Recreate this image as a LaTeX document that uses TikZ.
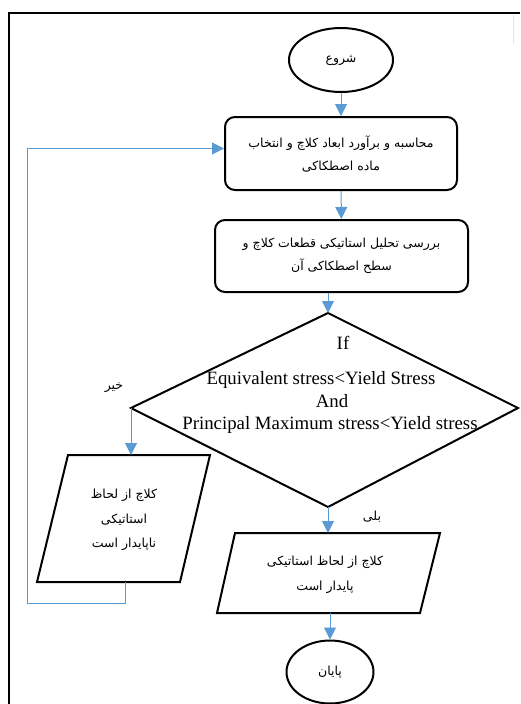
\documentclass[tikz,border=0pt]{standalone}
\usepackage{fontspec}
\setmainfont{Liberation Serif}
\newfontfamily\arabicfont[Script=Arabic]{DejaVu Sans}
\TeXXeTstate=1
\usetikzlibrary{arrows.meta,shapes.geometric}
\definecolor{arrowblue}{RGB}{91,155,213}
\newcommand{\fa}[1]{{\arabicfont\beginR #1\endR}}
\begin{document}
\begin{tikzpicture}[x=1pt,y=-1pt,
  shapeline/.style={draw=black,line width=2pt},
  flow/.style={draw=arrowblue,line width=1pt,-{Triangle[width=12pt,length=12pt]}},
  fatext/.style={font=\arabicfont\fontsize{12.5}{23}\selectfont,align=center,inner sep=0pt},
  entext/.style={font=\fontsize{18.8}{22}\selectfont,inner sep=0pt},
]
\useasboundingbox (0,0) rectangle (520,704);
\draw[line width=2pt] (9,704) -- (9,13) -- (520,13);
\draw[gray!20,line width=1pt] (513,15) -- (513,44);

% terminals and process boxes
\node[ellipse,shapeline,minimum width=104pt,minimum height=64pt,fatext] (start) at (341,60) {\fa{شروع}};
\node[rounded corners=10pt,shapeline,minimum width=232pt,minimum height=73pt,fatext] (b1) at (341,153.5)
  {\fa{محاسبه و برآورد ابعاد کلاچ و انتخاب}\\\fa{ماده اصطکاکی}};
\node[rounded corners=10pt,shapeline,minimum width=253pt,minimum height=72pt,fatext] (b2) at (341.5,256)
  {\fa{بررسی تحلیل استاتیکی قطعات کلاچ و}\\\fa{سطح اصطکاکی آن}};

% decision diamond
\coordinate (dtop) at (328,313);
\coordinate (dleft) at (131,408);
\coordinate (dright) at (518,408);
\coordinate (dbot) at (328,507);
\draw[shapeline,line join=miter] (dtop) -- (dright) -- (dbot) -- (dleft) -- cycle;
\node[entext] (dif) at (343,343) {If};
\node[entext] (d1) at (321,380) {Equivalent stress<Yield Stress};
\node[entext] (d2) at (332,401) {And};
\node[entext] (d3) at (330,425) {Principal Maximum stress<Yield stress};

% no branch parallelogram
\coordinate (notop) at (131,455);
\draw[shapeline] (68,455) -- (210,455) -- (180,582) -- (37,582) -- cycle;
\coordinate (nobot) at (125,582);
\node[fatext,font=\arabicfont\fontsize{12.5}{24.5}\selectfont] (notext) at (124,520)
  {\fa{کلاچ از لحاظ}\\\fa{استاتیکی}\\\fa{ناپایدار است}};

% yes branch parallelogram
\coordinate (yestop) at (328,533);
\draw[shapeline] (235,533) -- (440,533) -- (420,613) -- (217,613) -- cycle;
\coordinate (yesbot) at (330,613);
\node[fatext,font=\arabicfont\fontsize{12.5}{25}\selectfont] (yestext) at (325,575)
  {\fa{کلاچ از لحاظ استاتیکی}\\\fa{پایدار است}};

\node[ellipse,shapeline,minimum width=87pt,minimum height=63pt,fatext] (stop) at (330,672) {\fa{پایان}};

% labels
\node[fatext] (nolab) at (114,388) {\fa{خیر}};
\node[fatext] (yeslab) at (372,517) {\fa{بلی}};

% connectors
\draw[flow] (start) -- (b1);
\draw[flow] (b1) -- (b2);
\draw[flow] (b2.south -| dtop) -- (dtop);
\draw[flow] (dleft) -- (notop);
\draw[flow] (dbot) -- (yestop);
\draw[flow] (yesbot) -- (stop);
\coordinate (fbc) at (27,603);
\draw[flow] (nobot) |- (fbc) |- ([yshift=5pt]b1.west);
\end{tikzpicture}
\end{document}
